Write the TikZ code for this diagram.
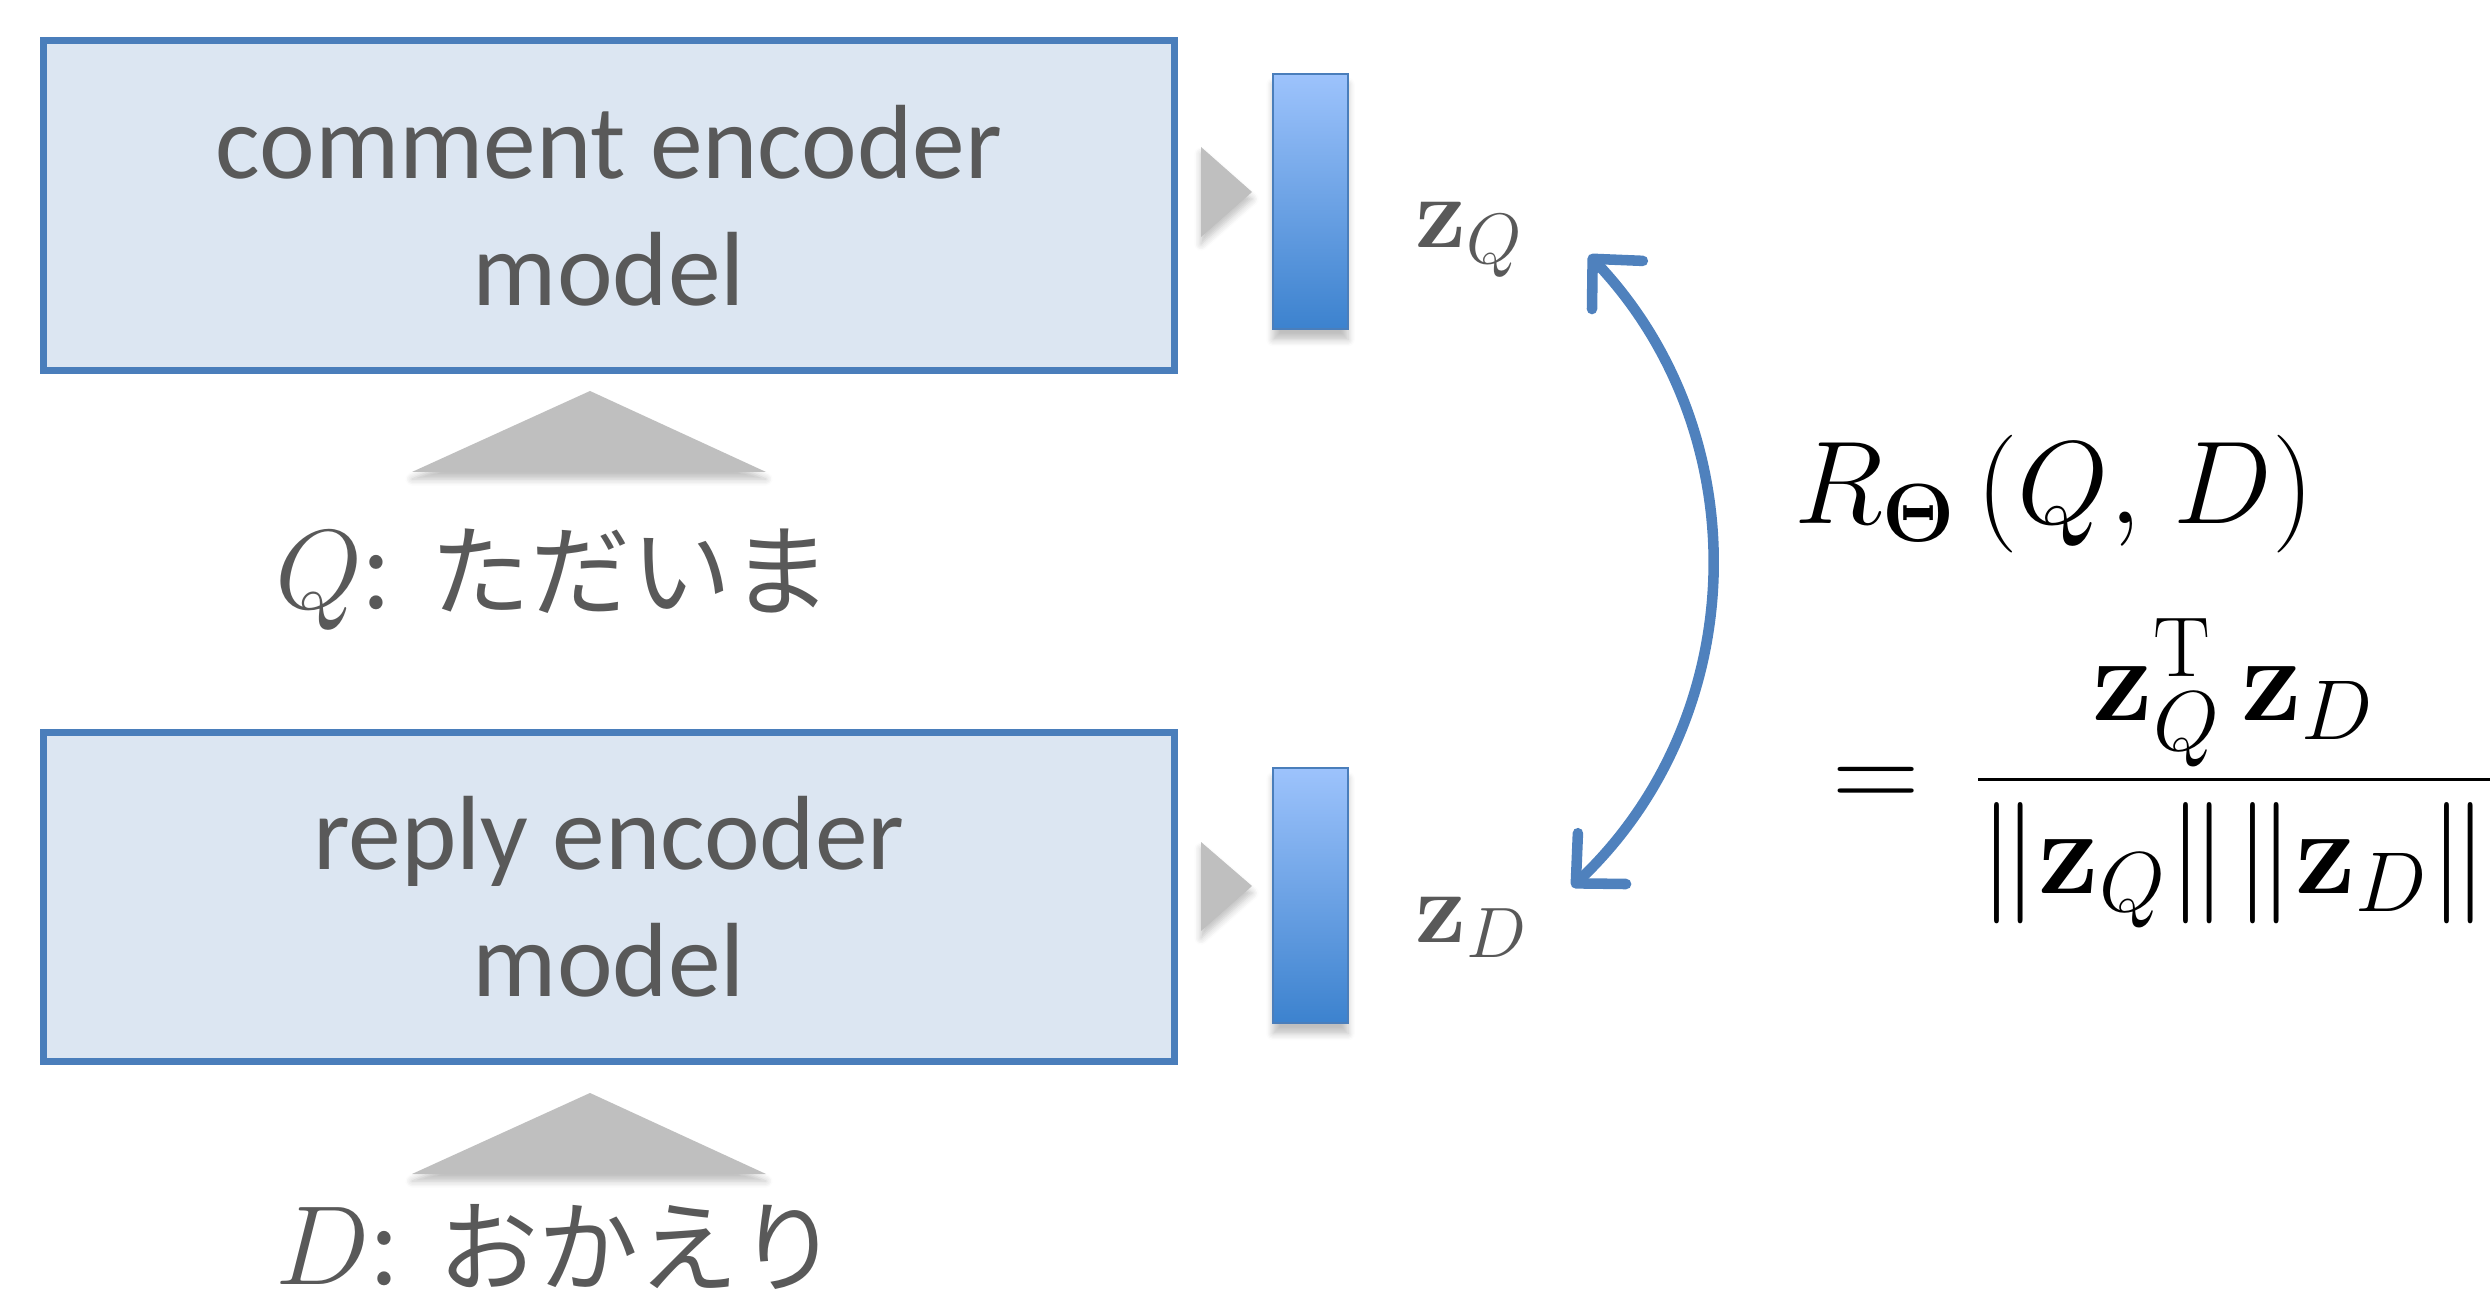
\documentclass[tikz,border=0pt]{standalone}
\usepackage{fix-cm}
\usepackage{amsmath}
\usepackage[no-math]{fontspec}
\setmainfont{Carlito}
\newfontfamily\jpfont{Noto Sans CJK JP}
\usetikzlibrary{arrows.meta,shadows.blur}

\definecolor{boxfill}{HTML}{DCE6F2}
\definecolor{boxline}{HTML}{4A7EBB}
\definecolor{txtgray}{HTML}{595959}
\definecolor{headgray}{HTML}{BFBFBF}
\definecolor{bartop}{HTML}{9DC3FC}
\definecolor{barbot}{HTML}{3C82CE}
\definecolor{arcblue}{HTML}{4F81BD}

\tikzset{
    encoder/.style={draw=boxline, line width=2pt, fill=boxfill,
        minimum width=11.3cm, minimum height=3.29cm, align=center,
        text=txtgray, font=\fontsize{30}{36}\selectfont},
    vecbar/.style={draw=boxline, line width=0.5pt, top color=bartop,
        bottom color=barbot, minimum width=0.75cm, minimum height=2.55cm,
        inner sep=0pt, blur shadow={shadow xshift=0pt, shadow yshift=-3pt,
        shadow blur steps=6, shadow opacity=25}},
    feed/.style={fill=headgray, blur shadow={shadow xshift=0pt,
        shadow yshift=-2pt, shadow blur steps=5, shadow opacity=25}},
    veclabel/.style={anchor=base west, inner sep=0pt, text=txtgray,
        font=\fontsize{29}{34}\selectfont},
    sentence/.style={anchor=base west, inner sep=0pt, text=txtgray,
        font=\fontsize{28.5}{34}\selectfont},
    formula/.style={anchor=base west, inner sep=0pt,
        font=\fontsize{33.5}{40}\selectfont},
    simarc/.style={draw=arcblue, line width=3pt,
        {Straight Barb[length=0.36cm, width=0.7cm, round]}-{Straight Barb[length=0.36cm, width=0.7cm, round]}}
}

\begin{document}
\begin{tikzpicture}[x=0.01cm, y=-0.01cm]
    \useasboundingbox (0, 0) rectangle (2492, 1295);

    % comment side
    \node[encoder] (qenc) at (609, 205.5) {comment encoder\\model};
        \path[feed] (412, 472) -- (590, 391) -- (766, 472) -- cycle;
        \node[sentence] (qtext) at (275, 609)
            {{\fontsize{32}{38}\selectfont$Q$}{\jpfont :\hspace{0.1cm} ただいま}};
        \path[feed] (1201, 147) -- (1252, 192) -- (1201, 237) -- cycle;
        \node[vecbar] (qbar) at (1310.5, 201.5) {};
        \node[veclabel] (zq) at (1415, 248) {$\mathbf{z}_Q$};

    % reply side
    \node[encoder] (denc) at (609, 897) {reply encoder\\model};
        \path[feed] (412, 1174) -- (590, 1093) -- (766, 1174) -- cycle;
        \node[sentence] (dtext) at (275, 1284)
            {{\fontsize{32}{38}\selectfont$D$}{\jpfont :\hspace{0.1cm} おかえり}};
        \path[feed] (1201, 842) -- (1252, 886) -- (1201, 931) -- cycle;
        \node[vecbar] (dbar) at (1310.5, 895.5) {};
        \node[veclabel] (zd) at (1415, 942) {$\mathbf{z}_D$};

    % similarity between the two vectors
    \coordinate (qtip) at (1589, 255);
    \coordinate (dtip) at (1572, 887);
    \draw[simarc] (qtip) to[bend left=45] (dtip);

    \node[formula] (rel) at (1794, 524)
        {$R_{\boldsymbol{\Theta}}\,(Q,\mskip2mu D)$};
    \node[formula, font=\fontsize{34.5}{41}\selectfont] (cos) at (1832, 810)
        {$\displaystyle=\mskip3mu\frac{\mathbf{z}_Q^{\mathrm{T}}\,\mathbf{z}_D}
        {\left\|\mathbf{z}_Q\right\|\mskip-2mu\left\|\mathbf{z}_D\right\|}$};
\end{tikzpicture}
\end{document}
